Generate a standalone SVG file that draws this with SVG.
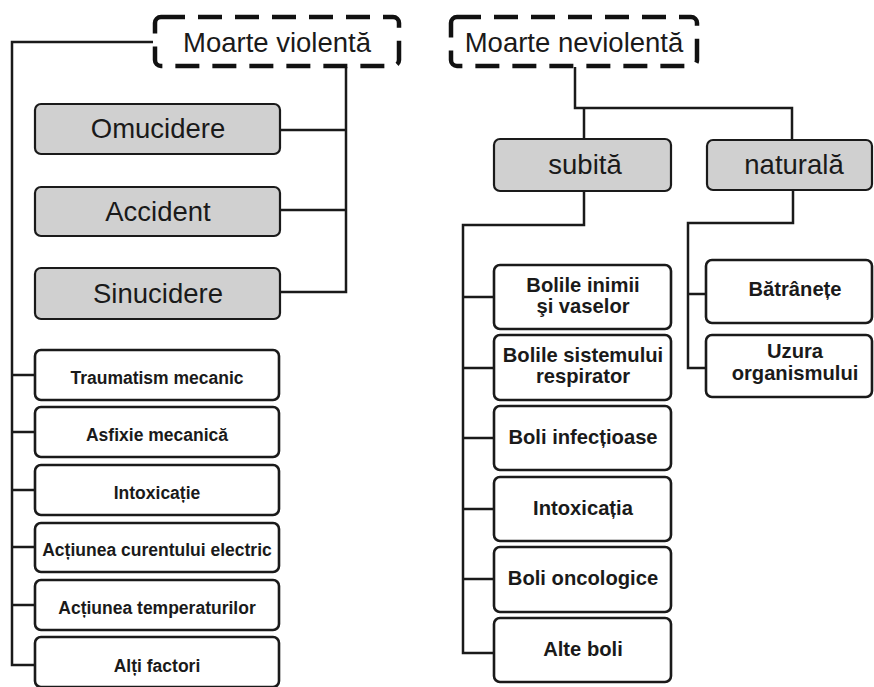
<svg xmlns="http://www.w3.org/2000/svg" width="874" height="687" viewBox="0 0 874 687">
<style>
text{font-family:"Liberation Sans",Arial,sans-serif;fill:#1a1a1a;text-anchor:middle}
.dash{fill:#fff;stroke:#111;stroke-width:4.5;stroke-dasharray:24 13}
.gray{fill:#d0d0d0;stroke:#1a1a1a;stroke-width:2.2}
.white{fill:#fff;stroke:#1a1a1a;stroke-width:2.6}
.big{font-size:27.5px}
.sm{font-size:17.5px;font-weight:bold}
.md{font-size:20.2px;font-weight:bold}
#connectors path{fill:none;stroke:#1a1a1a;stroke-width:2.5}
</style>
<rect width="874" height="687" fill="#fff"/>
<g id="connectors">
<path d="M153 42H12V665H35"/>
<path d="M12 375H35M12 432H35M12 490H35M12 547H35M12 605H35"/>
<path d="M346 67V292H280M280 130H346M280 210H346"/>
<path d="M575 67V108H792V140M584 108V139"/>
<path d="M584 191V225H463V653H494M463 297H494M463 368H494M463 438H494M463 509H494M463 579H494"/>
<path d="M793 190V223H688V368H706M688 294H706"/>
</g>
<g id="moarte-violenta"><rect class="dash" x="155" y="17" width="244" height="49" rx="6"/><text class="big" x="277" y="52">Moarte violentă</text></g>
<g id="moarte-neviolenta"><rect class="dash" x="451" y="17" width="246" height="49" rx="6"/><text class="big" x="574" y="52">Moarte neviolentă</text></g>
<g id="omucidere"><rect class="gray" x="35" y="104" width="245" height="50" rx="6"/><text class="big" x="158" y="138">Omucidere</text></g>
<g id="accident"><rect class="gray" x="35" y="187" width="245" height="49" rx="6"/><text class="big" x="158" y="221">Accident</text></g>
<g id="sinucidere"><rect class="gray" x="35" y="268" width="245" height="51" rx="6"/><text class="big" x="158" y="303">Sinucidere</text></g>
<g id="traumatism"><rect class="white" x="35" y="350" width="244" height="50" rx="6"/><text class="sm" x="157" y="384">Traumatism mecanic</text></g>
<g id="asfixie"><rect class="white" x="35" y="407" width="244" height="50" rx="6"/><text class="sm" x="157" y="441">Asfixie mecanică</text></g>
<g id="intoxicatie"><rect class="white" x="35" y="465" width="244" height="50" rx="6"/><text class="sm" x="157" y="499">Intoxicație</text></g>
<g id="curent"><rect class="white" x="35" y="523" width="244" height="49" rx="6"/><text class="sm" x="157" y="556">Acțiunea curentului electric</text></g>
<g id="temperaturi"><rect class="white" x="35" y="580" width="244" height="50" rx="6"/><text class="sm" x="157" y="614">Acțiunea temperaturilor</text></g>
<g id="alti-factori"><rect class="white" x="35" y="637" width="244" height="50" rx="6"/><text class="sm" x="157" y="672">Alți factori</text></g>
<g id="subita"><rect class="gray" x="494" y="139" width="177" height="52" rx="6"/><text class="big" x="585" y="174">subită</text></g>
<g id="naturala"><rect class="gray" x="707" y="140" width="165" height="50" rx="6"/><text class="big" x="794" y="174">naturală</text></g>
<g id="inima"><rect class="white" x="494" y="265" width="177" height="64" rx="6"/><text class="md" x="583" y="292">Bolile inimii</text><text class="md" x="583" y="313">şi vaselor</text></g>
<g id="respirator"><rect class="white" x="494" y="335" width="177" height="65" rx="6"/><text class="md" x="583" y="362">Bolile sistemului</text><text class="md" x="583" y="383">respirator</text></g>
<g id="infectioase"><rect class="white" x="494" y="406" width="177" height="64" rx="6"/><text class="md" x="583" y="444">Boli infecțioase</text></g>
<g id="intoxicatia"><rect class="white" x="494" y="477" width="177" height="64" rx="6"/><text class="md" x="583" y="515">Intoxicația</text></g>
<g id="oncologice"><rect class="white" x="494" y="547" width="177" height="65" rx="6"/><text class="md" x="583" y="585">Boli oncologice</text></g>
<g id="alte-boli"><rect class="white" x="494" y="618" width="177" height="64" rx="6"/><text class="md" x="583" y="656">Alte boli</text></g>
<g id="batranete"><rect class="white" x="706" y="260" width="166" height="63" rx="6"/><text class="md" x="795" y="296">Bătrânețe</text></g>
<g id="uzura"><rect class="white" x="706" y="335" width="166" height="62" rx="6"/><text class="md" x="795" y="358">Uzura</text><text class="md" x="795" y="380">organismului</text></g>
</svg>
